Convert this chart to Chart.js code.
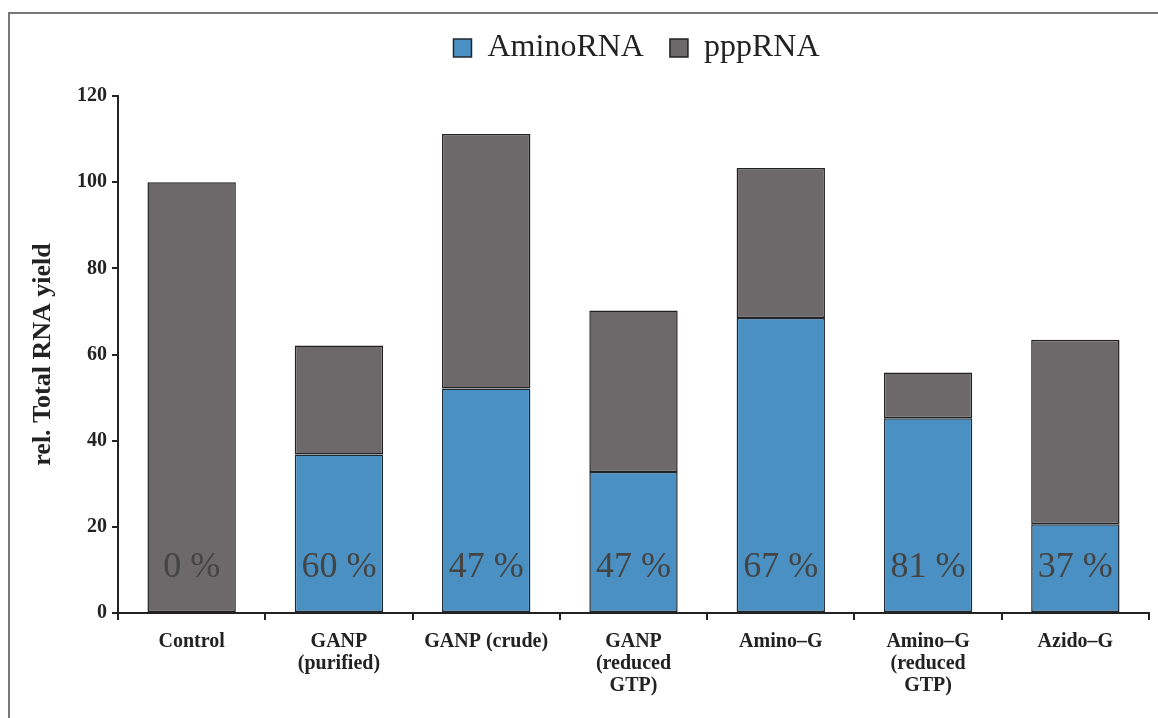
<html>

<head>
    <script src="https://cdn.jsdelivr.net/npm/chart.js@4.4.1/dist/chart.umd.min.js"></script>
    <style>
        body { margin: 0; background: #fff; }
        #wrap { width: 1158px; height: 718px; position: relative; }
    </style>
</head>

<body>
    <div id="wrap">
        <canvas id="yield-graph" width="1158" height="718"></canvas>
    </div>
</body>

<script>
    // values
    var labels = [
        "Control",
        ["GANP", "(purified)"],
        "GANP (crude)",
        ["GANP", "(reduced", "GTP)"],
        "Amino\u2013G",
        ["Amino\u2013G", "(reduced", "GTP)"],
        "Azido\u2013G"
    ];
    var aminoRNA = [0, 36.8, 52.1, 32.7, 68.5, 45.2, 20.6];
    var pppRNA = [100, 25.3, 59.1, 37.5, 34.8, 10.6, 42.8];
    var percentLabels = ["0 %", "60 %", "47 %", "47 %", "67 %", "81 %", "37 %"];
    var percentY = 10.5;

    var serif = "'Liberation Serif', 'Times New Roman', serif";

    // frame lines around the figure (top and left only, like the scan)
    var framePlugin = {
        id: 'frame',
        beforeDraw: function(chart) {
            var ctx = chart.ctx;
            ctx.save();
            ctx.fillStyle = '#fff';
            ctx.fillRect(0, 0, chart.width, chart.height);
            ctx.strokeStyle = '#777';
            ctx.lineWidth = 2;
            ctx.beginPath();
            ctx.moveTo(9, chart.height);
            ctx.lineTo(9, 13);
            ctx.lineTo(chart.width, 13);
            ctx.stroke();
            ctx.restore();
        }
    };

    // legend sits a bit right of centre and higher up in the original
    var legendShift = {
        id: 'legendShift',
        afterLayout: function(chart) {
            chart.legend.left += 48;
            chart.legend.right += 48;
            chart.legend.top -= 22;
            chart.legend.bottom -= 22;
        }
    };

    // percentage text inside each bar
    var percentPlugin = {
        id: 'percent',
        afterDatasetsDraw: function(chart) {
            var ctx = chart.ctx;
            var meta = chart.getDatasetMeta(1);
            var y = chart.scales.y.getPixelForValue(percentY);
            ctx.save();
            ctx.font = "36px " + serif;
            ctx.fillStyle = '#444';
            ctx.textAlign = 'center';
            ctx.textBaseline = 'middle';
            meta.data.forEach(function(bar, i) {
                ctx.fillText(percentLabels[i], bar.x, y);
            });
            ctx.restore();
        }
    };

    var ctx = document.getElementById("yield-graph");
    var myBarChart = new Chart(ctx, {
        type: 'bar',
        data: {
            labels: labels,
            datasets: [{
                label: "AminoRNA",
                data: aminoRNA,
                backgroundColor: '#4a90c2',
                borderColor: '#1e2a33',
                borderWidth: 1.5,
                borderSkipped: false
            }, {
                label: "pppRNA",
                data: pppRNA,
                backgroundColor: '#6d696b',
                borderColor: '#222',
                borderWidth: 1.5,
                borderSkipped: false
            }]
        },
        plugins: [framePlugin, legendShift, percentPlugin],
        options: {
            responsive: false,
            animation: false,
            layout: { padding: { top: 28, right: 9, left: 28, bottom: 0 } },
            datasets: {
                bar: { categoryPercentage: 1, barPercentage: 0.6 }
            },
            plugins: {
                tooltip: { enabled: false },
                legend: {
                    position: 'top',
                    labels: {
                        color: '#222',
                        font: { family: serif, size: 32 },
                        boxWidth: 18,
                        boxHeight: 18,
                        padding: 26
                    }
                }
            },
            scales: {
                x: {
                    stacked: true,
                    afterFit: function(scale) { scale.height = 105; },
                    border: { color: '#222', width: 2 },
                    grid: {
                        offset: true,
                        drawOnChartArea: false,
                        drawTicks: true,
                        tickLength: 7,
                        color: '#222',
                        lineWidth: 2
                    },
                    ticks: {
                        color: '#222',
                        font: { family: serif, size: 20, weight: 'bold', lineHeight: 1.1 },
                        maxRotation: 0,
                        autoSkip: false,
                        padding: 11
                    }
                },
                y: {
                    stacked: true,
                    min: 0,
                    max: 120,
                    afterFit: function(scale) { scale.width = 90; },
                    border: { color: '#222', width: 2 },
                    grid: {
                        drawOnChartArea: false,
                        drawTicks: true,
                        tickLength: 6,
                        color: '#222',
                        lineWidth: 2
                    },
                    ticks: {
                        stepSize: 20,
                        color: '#222',
                        font: { family: serif, size: 20, weight: 'bold' },
                        padding: 5
                    },
                    title: {
                        display: true,
                        text: "rel. Total RNA yield",
                        color: '#222',
                        font: { family: serif, size: 26, weight: 'bold' },
                        padding: { top: 0, bottom: 0 }
                    }
                }
            }
        }
    });
</script>

</html>
